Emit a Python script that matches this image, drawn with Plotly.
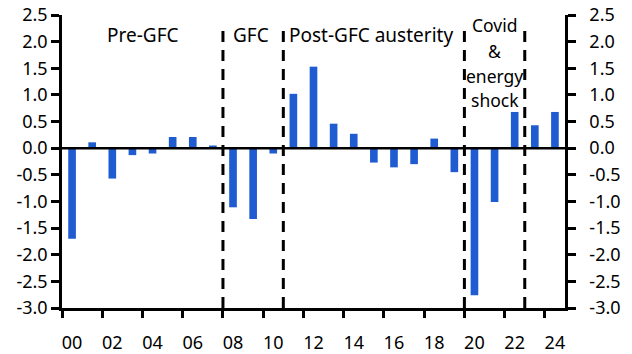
import plotly.graph_objects as go

years = list(range(25))
year_labels = ["00", "02", "04", "06", "08", "10", "12", "14", "16", "18", "20", "22", "24"]
values = [-1.70, 0.11, -0.57, -0.13, -0.10, 0.21, 0.21, 0.05,
          -1.11, -1.33, -0.10, 1.02, 1.53, 0.46, 0.27, -0.27,
          -0.36, -0.30, 0.18, -0.45, -2.76, -1.01, 0.68, 0.43, 0.68]
period_breaks = [7.5, 10.5, 19.5, 22.5]
period_labels = ["Pre-GFC", "GFC", "Post-GFC austerity"]
period_x = [3.53, 8.89, 14.86]
covid_lines = ["Covid", "&", "energy", "shock"]
covid_x = 21.0
covid_y = [2.31, 1.82, 1.36, 0.90]

font = dict(family="Noto Sans, Open Sans, sans-serif", size=18, color="black")
afont = dict(family="Noto Sans, Open Sans, sans-serif", size=19, color="black")
cfont = dict(family="Noto Sans, Open Sans, sans-serif", size=17.5, color="black")
BAR = "#1f5bd1"

fig = go.Figure()
fig.add_trace(go.Bar(x=years, y=values, marker=dict(color=BAR, line=dict(width=0)),
                     width=0.38, showlegend=False))
fig.add_trace(go.Scatter(x=[0], y=[0], yaxis="y2", mode="markers",
                         marker=dict(opacity=0), showlegend=False, hoverinfo="skip"))

for b in period_breaks:
    fig.add_shape(type="line", x0=b, x1=b, y0=-3.0, y1=2.33, xref="x", yref="y",
                  line=dict(color="black", width=3, dash="11px,8px"))

fig.add_shape(type="line", x0=-0.5, x1=24.5, y0=0, y1=0, xref="x", yref="y",
              line=dict(color="black", width=2.5))

for lbl, x in zip(period_labels, period_x):
    fig.add_annotation(x=x, y=2.12, xref="x", yref="y", text=lbl, showarrow=False,
                       font=afont, yanchor="middle")
for lbl, y in zip(covid_lines, covid_y):
    fig.add_annotation(x=covid_x, y=y, xref="x", yref="y", text=lbl, showarrow=False,
                       font=cfont, yanchor="middle")

yticks = [-3.0, -2.5, -2.0, -1.5, -1.0, -0.5, 0.0, 0.5, 1.0, 1.5, 2.0, 2.5]
ytext = [f"{v:.1f}" for v in yticks]
yax = dict(range=[-3.0, 2.5], tickvals=yticks, ticktext=ytext, ticks="outside",
           ticklen=8, tickwidth=2.5, tickcolor="black", showline=True,
           linecolor="black", linewidth=2.5, showgrid=False, zeroline=False,
           tickfont=font, automargin=False)

fig.update_layout(
    width=632, height=354,
    margin=dict(l=62, r=67, t=15, b=46),
    plot_bgcolor="white", paper_bgcolor="white",
    bargap=0.6,
    xaxis=dict(range=[-0.5, 24.5], tickvals=[i - 0.5 for i in range(0, 25, 2)],
               ticktext=year_labels, ticklabelshift=10, ticks="outside", ticklen=7,
               tickwidth=2.5, tickcolor="black", showline=True, linecolor="black",
               linewidth=2.5, showgrid=False, zeroline=False, tickfont=font,
               ticklabelstandoff=10, automargin=False),
    yaxis=dict(**yax, side="left", ticklabelstandoff=0),
    yaxis2=dict(**yax, side="right", overlaying="y", ticklabelstandoff=10),
)

fig.write_html("out.html")
